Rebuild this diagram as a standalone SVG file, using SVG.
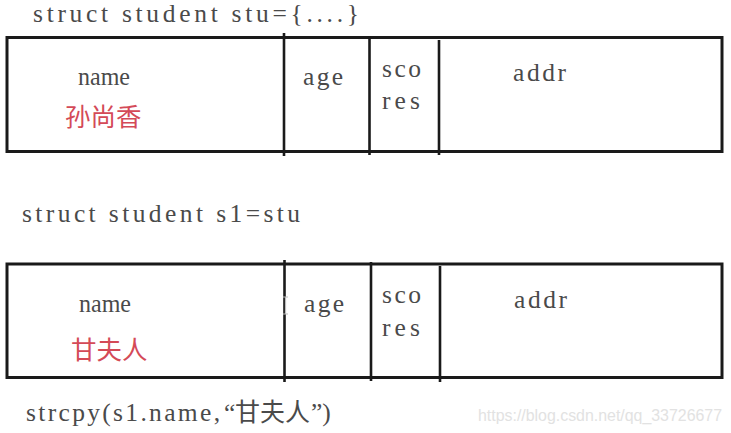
<svg xmlns="http://www.w3.org/2000/svg" width="731" height="433" viewBox="0 0 731 433">
<style>
.box{fill:#fff;stroke:#1a1a1a;stroke-width:3}
.div{stroke:#1a1a1a;stroke-width:2.6;fill:none}
.t{font-family:"Liberation Serif","DejaVu Serif",serif;font-size:25.5px;fill:#4a4a4a}
.cn{font-family:"Noto Sans CJK SC",sans-serif;font-size:25.5px;fill:#d44a57}
.codecn{font-family:"Noto Sans CJK SC",sans-serif;font-size:25px;fill:#4a4a4a}
.wm{font-family:"Liberation Sans",Arial,sans-serif;font-size:16px;fill:#e2e2e2}
</style>
<rect width="731" height="433" fill="#fff"/>

<g id="code1">
<text class="t" x="33" y="22" textLength="326" lengthAdjust="spacing">struct student stu={....}</text>
</g>

<g id="struct-stu">
<rect class="box" x="7" y="37.5" width="715" height="114"/>
<line class="div" x1="284" y1="33" x2="284" y2="156"/>
<line class="div" x1="369.5" y1="36" x2="369.5" y2="155"/>
<line class="div" x1="439" y1="40" x2="439" y2="155"/>
<g id="stu-name">
<text class="t" x="78" y="85" textLength="52" lengthAdjust="spacingAndGlyphs">name</text>
<text class="cn" x="65" y="126">孙尚香</text>
</g>
<g id="stu-age"><text class="t" x="303" y="85" textLength="40" lengthAdjust="spacing">age</text></g>
<g id="stu-scores"><text class="t" x="382" y="77" textLength="39" lengthAdjust="spacing">sco</text><text class="t" x="382" y="109" textLength="38" lengthAdjust="spacing">res</text></g>
<g id="stu-addr"><text class="t" x="513" y="81" textLength="53" lengthAdjust="spacing">addr</text></g>
</g>

<g id="code2">
<text class="t" x="22" y="222" textLength="278" lengthAdjust="spacing">struct student s1=stu</text>
</g>

<g id="struct-s1">
<rect class="box" x="7" y="264" width="715" height="113.5"/>
<line class="div" x1="284.5" y1="260" x2="284.5" y2="382"/>
<line class="div" x1="371" y1="262" x2="371" y2="381"/>
<line class="div" x1="440" y1="266" x2="440" y2="382"/>
<path d="M283 297h5M285.5 297v17M283 314h5" stroke="#bbb" stroke-width="1.2" fill="none"/>
<g id="s1-name">
<text class="t" x="79" y="312" textLength="52" lengthAdjust="spacingAndGlyphs">name</text>
<text class="cn" x="71" y="359">甘夫人</text>
</g>
<g id="s1-age"><text class="t" x="304" y="312" textLength="40" lengthAdjust="spacing">age</text></g>
<g id="s1-scores"><text class="t" x="382" y="303" textLength="39" lengthAdjust="spacing">sco</text><text class="t" x="382" y="336" textLength="38" lengthAdjust="spacing">res</text></g>
<g id="s1-addr"><text class="t" x="514" y="308" textLength="53" lengthAdjust="spacing">addr</text></g>
</g>

<g id="code3">
<text class="t" x="26" y="421"><tspan textLength="194" lengthAdjust="spacing">strcpy(s1.name,</tspan><tspan x="224">“</tspan><tspan class="codecn" x="235">甘夫人</tspan><tspan x="311">”)</tspan></text>
</g>

<g id="watermark">
<text class="wm" x="478" y="421" textLength="244" lengthAdjust="spacingAndGlyphs">https://blog.csdn.net/qq_33726677</text>
</g>
</svg>
